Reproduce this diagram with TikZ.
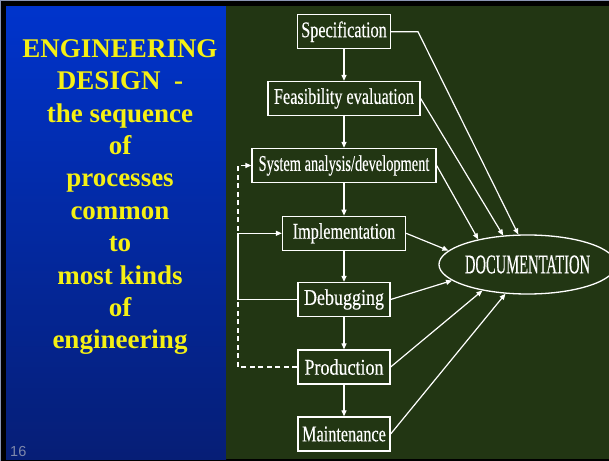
\documentclass[tikz,border=0pt]{standalone}
\usepackage{fontspec}
\setmainfont{Liberation Serif}
\newfontfamily\boxfont[FakeStretch=0.72,FakeBold=0.3]{Liberation Serif}
\newfontfamily\boxfontwide[FakeStretch=0.8,FakeBold=0.3]{Liberation Serif}
\newfontfamily\boxfontnarrow[FakeStretch=0.64,FakeBold=0.3]{Liberation Serif}
\newfontfamily\docfont[FakeStretch=0.54,FakeBold=0.3]{Liberation Serif}
\newfontfamily\numfont{Liberation Sans}
\usetikzlibrary{arrows.meta,shapes.geometric}

\definecolor{slideblue}{RGB}{0,52,204}
\definecolor{slidenavy}{RGB}{6,30,118}
\definecolor{boardgreen}{RGB}{34,54,19}
\definecolor{titleyellow}{RGB}{245,240,20}
\definecolor{framegray}{RGB}{140,150,180}
\definecolor{pagegray}{RGB}{125,135,170}

\begin{document}
\begin{tikzpicture}[x=1bp,y=-1bp,
  stage/.style={draw=white, line width=1.3bp, text=white, minimum height=34bp,
    inner sep=0pt, font=\boxfont\fontsize{22.5bp}{25bp}\selectfont},
  narrowstage/.style={stage, font=\boxfontnarrow\fontsize{22.5bp}{25bp}\selectfont},
  widestage/.style={stage, font=\boxfontwide\fontsize{22.5bp}{25bp}\selectfont},
  docnode/.style={ellipse, draw=white, line width=1.3bp, text=white,
    minimum width=155bp, minimum height=59bp, inner sep=0pt,
    font=\docfont\fontsize{27bp}{30bp}\selectfont},
  flow/.style={draw=white, line width=1.2bp, -{Triangle[length=6bp,width=5bp]}},
  feedback/.style={flow, dash pattern=on 5bp off 3.5bp},
  titleline/.style={anchor=base, inner sep=0pt, text=titleyellow,
    font=\bfseries\fontsize{27bp}{30bp}\selectfont}
]
\useasboundingbox (0,0) rectangle (609,461);

% slide frame and the two panels
\fill[black] (0,0) rectangle (609,461);
\fill[framegray] (0,0) rectangle (609,1.5);
\fill[framegray] (0,0) rectangle (1,461);
\shade[top color=slideblue, bottom color=slidenavy] (6,6.5) rectangle (226,459);
\fill[boardgreen] (226,6.5) rectangle (609,459);

% title text on the blue panel
\foreach \txt [count=\i from 0] in {ENGINEERING, DESIGN~~-, the sequence, of,
    processes, common, to, most kinds, of, engineering}
  \node[titleline, name=title\i] at (120, 57.3+32.4*\i) {\txt};

\node[anchor=base west, inner sep=0pt, text=pagegray,
  font=\numfont\fontsize{14.5bp}{16bp}\selectfont] (pagenum) at (10,456.5) {16};

% design stages
\node[stage, minimum width=93bp]  (spec)  at (344,31.7)  {Specification};
\node[stage, minimum width=152bp] (feas)  at (344,98.5)  {Feasibility evaluation};
\node[narrowstage, minimum width=184bp] (sys) at (344,165.5) {System analysis/development};
\node[stage, minimum width=123bp] (impl)  at (344,233.3) {Implementation};
\node[widestage, minimum width=92bp]  (debug) at (344,299.5) {Debugging};
\node[widestage, minimum width=92bp]  (prod)  at (344,367)   {Production};
\node[stage, minimum width=92bp]  (maint) at (344,434)   {Maintenance};

\node[docnode] (doc) at (527.5,264.5) {DOCUMENTATION};

% main sequence
\draw[flow] (spec) -- (feas);
\draw[flow] (feas) -- (sys);
\draw[flow] (sys) -- (impl);
\draw[flow] (impl) -- (debug);
\draw[flow] (debug) -- (prod);
\draw[flow] (prod) -- (maint);

% feedback loops on the left
\coordinate (rail) at (238,0);
\draw[flow] (debug.west) -- (debug.west -| rail) |- (impl.west);
\draw[feedback] (prod.west) -- (prod.west -| rail) |- (sys.west);

% every stage feeds the documentation
\coordinate (specbend) at (418,31.7);
\draw[flow] (spec.east) -- (specbend) -- (doc.107);
\draw[flow] (feas.east) -- (doc.130);
\draw[flow] (sys.east) -- (doc.153);
\draw[flow] (impl.east) -- (doc.170);
\draw[flow] (debug.east) -- (doc.192);
\draw[flow] (prod.east) -- (doc.210);
\draw[flow] (maint.east) -- (doc.233);
\end{tikzpicture}
\end{document}
